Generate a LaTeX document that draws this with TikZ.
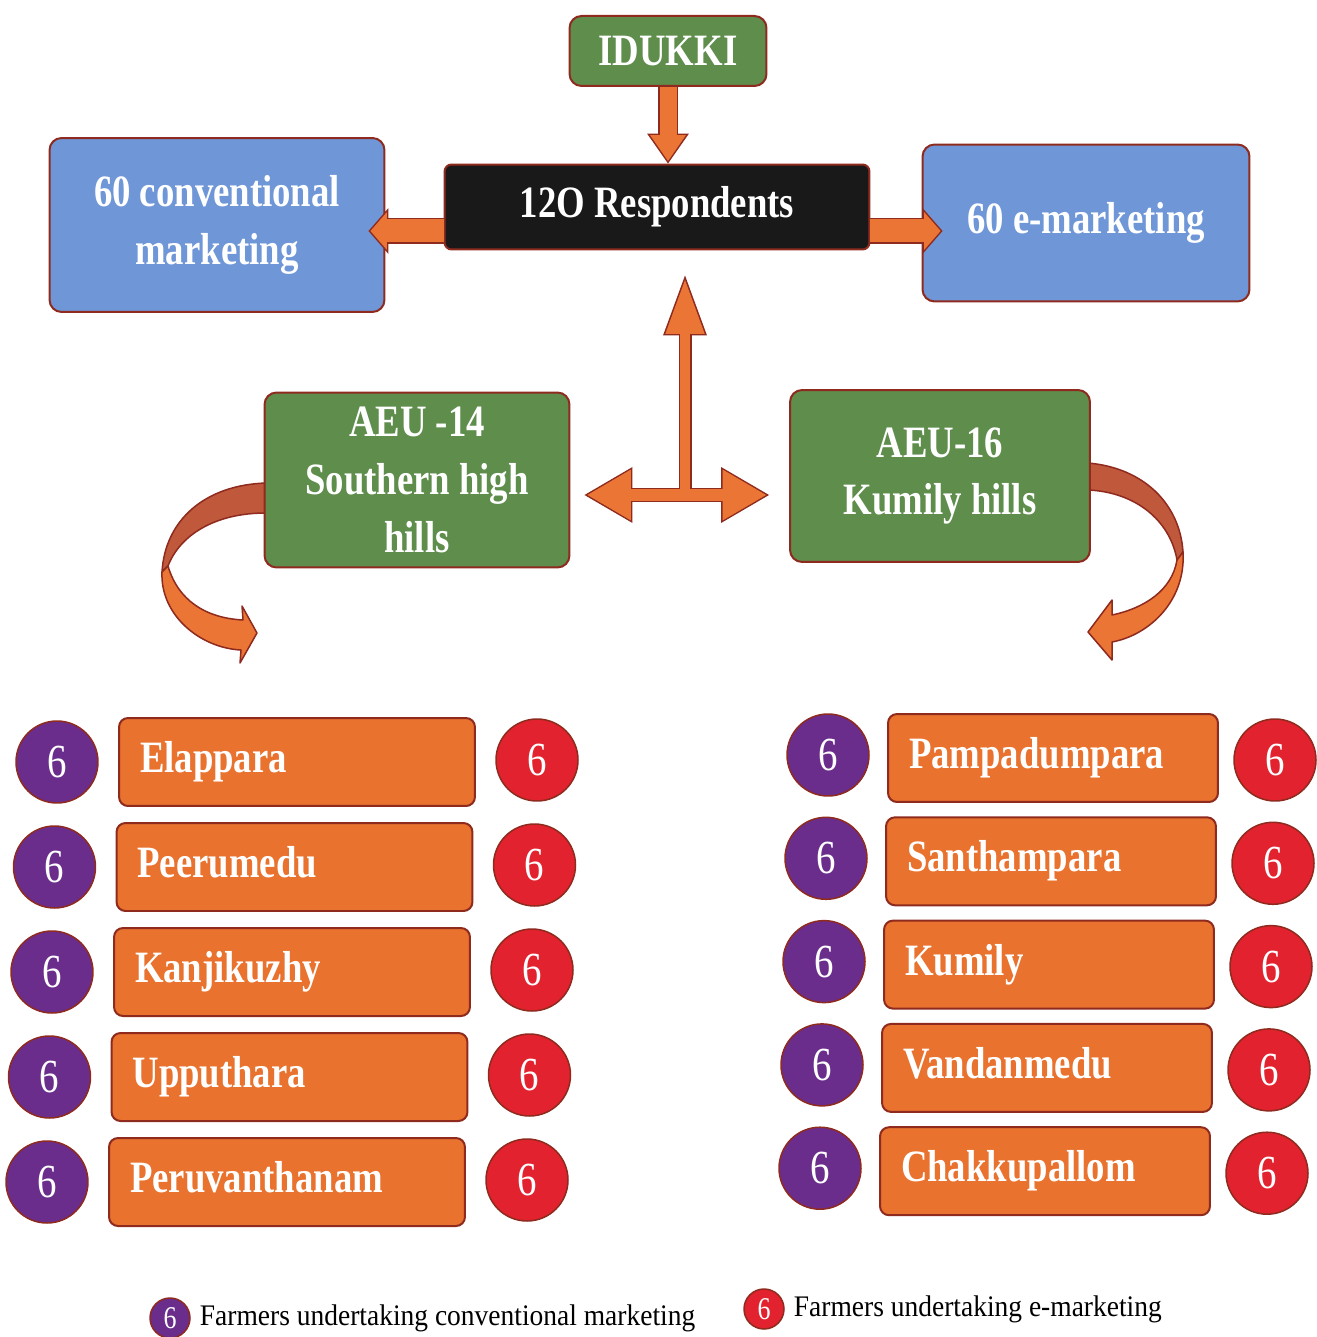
\documentclass[tikz,border=0pt]{standalone}
\usepackage{fontspec}
\setmainfont{Liberation Serif}
\newfontfamily\narrowfont[FakeStretch=0.82]{Liberation Serif}
\newfontfamily\legendfont[FakeStretch=0.92]{Liberation Serif}
\usetikzlibrary{arrows.meta,calc}
\definecolor{boxgreen}{HTML}{5E8D4C}
\definecolor{boxblue}{HTML}{6F97D8}
\definecolor{boxorange}{HTML}{E8722E}
\definecolor{arrorange}{HTML}{EA7535}
\definecolor{curvedark}{HTML}{C0583C}
\definecolor{dotpurple}{HTML}{6A2D8C}
\definecolor{dotred}{HTML}{E2222E}
\definecolor{brd}{HTML}{8E2A1E}
\tikzset{
box/.style={
  rectangle,
  rounded corners=0.24cm,
  draw=brd,
  line width=0.04cm,
  text=white,
  align=center,
  inner sep=0pt,
  font=\narrowfont\bfseries\fontsize{25.5}{33}\selectfont
},
greenbox/.style={box,fill=boxgreen},
bluebox/.style={box,fill=boxblue},
townbox/.style={box,fill=boxorange,rounded corners=0.18cm,align=left,
  inner xsep=0.42cm,minimum height=1.76cm,text height=0.62cm,text depth=0.2cm},
convdot/.style={circle,draw=brd,line width=0.03cm,fill=dotpurple,text=white,
  minimum size=1.64cm,inner sep=0pt,font=\narrowfont\fontsize{27}{30}\selectfont},
edot/.style={convdot,fill=dotred},
arrowback/.style n args={3}{draw=brd,line width=#1,
  -{Triangle[width=#2,length=#3,line width=0pt]}},
arrowfront/.style n args={4}{draw=arrorange,line width=#1,
  -{Triangle[width=#2,length=#3,line width=0pt]},shorten >=#4},
darrowback/.style n args={3}{draw=brd,line width=#1,
  {Triangle[width=#2,length=#3,line width=0pt]}-{Triangle[width=#2,length=#3,line width=0pt]}},
darrowfront/.style n args={4}{draw=arrorange,line width=#1,
  {Triangle[width=#2,length=#3,line width=0pt]}-{Triangle[width=#2,length=#3,line width=0pt]},
  shorten <=#4,shorten >=#4},
curveback/.style={draw=brd,line width=0.03cm,fill=curvedark,line join=round},
curvefront/.style={draw=brd,line width=0.03cm,fill=arrorange,line join=round},
}

\begin{document}
\begin{tikzpicture}[x=0.02cm,y=-0.02cm]
\useasboundingbox (0,0) rectangle (1316,1337);

% the bent arrows behind the two zones
\draw[curveback] (266,483) .. controls (205,485) and (165,520) .. (162,572)
  -- (168,566) .. controls (180,535) and (215,513) .. (266,513) -- cycle;
\draw[curvefront] (162,572) .. controls (160,615) and (200,648) .. (241,650)
  -- (240,663) -- (257,633) -- (242,606) -- (243,620)
  .. controls (205,618) and (178,600) .. (168,566) -- cycle;
\draw[curveback] (1088,463) .. controls (1145,468) and (1180,505) .. (1183,552)
  -- (1177,560) .. controls (1170,520) and (1135,492) .. (1088,490) -- cycle;
\draw[curvefront] (1183,552) .. controls (1186,600) and (1150,635) .. (1112,642)
  -- (1112,660) -- (1088,632) -- (1112,600) -- (1112,615)
  .. controls (1145,608) and (1172,590) .. (1177,560) -- cycle;

% the boxes
\node[greenbox,minimum width=3.94cm,minimum height=1.40cm] (idukki) at (668,51) {IDUKKI};
\node[box,fill=black!90,rounded corners=0.14cm,minimum width=8.5cm,minimum height=1.7cm]
  (resp) at (657,207) {12O Respondents};
\node[bluebox,minimum width=6.7cm,minimum height=3.48cm] (conv) at (217,225)
  {60 conventional\\marketing};
\node[bluebox,minimum width=6.54cm,minimum height=3.14cm] (emark) at (1086,223)
  {60 e-marketing};
\node[greenbox,minimum width=6.1cm,minimum height=3.5cm] (aeuL) at (417,480)
  {AEU -14\\Southern high\\hills};
\node[greenbox,minimum width=6.0cm,minimum height=3.44cm] (aeuR) at (940,476)
  {AEU-16\\Kumily hills};
\coordinate (hub) at (685,495);

% the straight arrows: dark outline first, orange on top
\draw[arrowback={0.40cm}{0.84cm}{0.60cm}] (idukki.south) -- (idukki.south |- resp.north);
\draw[arrowfront={0.34cm}{0.72cm}{0.52cm}{0.05cm}] (idukki.south) -- (idukki.south |- resp.north);
\draw[arrowback={0.52cm}{0.92cm}{0.40cm}] ($(resp.west)+(0,24)$) -- ($(conv.east)+(-17,6)$);
\draw[arrowfront={0.46cm}{0.76cm}{0.33cm}{0.04cm}] ($(resp.west)+(0,24)$) -- ($(conv.east)+(-17,6)$);
\draw[arrowback={0.52cm}{0.92cm}{0.40cm}] ($(resp.east)+(0,24)$) -- ($(emark.west)+(21,8)$);
\draw[arrowfront={0.46cm}{0.76cm}{0.33cm}{0.04cm}] ($(resp.east)+(0,24)$) -- ($(emark.west)+(21,8)$);
\draw[darrowback={0.30cm}{1.12cm}{0.96cm}] ($(aeuL.east |- hub)+(14,0)$) -- ($(aeuR.west |- hub)+(-20,0)$);
\draw[arrowback={0.26cm}{0.88cm}{1.20cm}] (hub) -- ($(resp.south -| hub)+(0,25)$);
\draw[darrowfront={0.24cm}{1.02cm}{0.87cm}{0.06cm}] ($(aeuL.east |- hub)+(14,0)$) -- ($(aeuR.west |- hub)+(-20,0)$);
\draw[arrowfront={0.20cm}{0.79cm}{1.08cm}{0.09cm}] (hub) -- ($(resp.south -| hub)+(0,25)$);

% the panchayats of each zone
\foreach \town [count=\i] in {Elappara,Peerumedu,Kanjikuzhy,Upputhara,Peruvanthanam}
{
  \pgfmathsetmacro\yy{762+105*(\i-1)}
  \pgfmathsetmacro\dx{-2.5*(\i-1)}
  \node[convdot] (lc\i) at (57+\dx,\yy) {6};
  \node[townbox,minimum width=7.12cm,text width=6.28cm] (lt\i) at (297+\dx,\yy) {\town};
  \node[edot] (le\i) at (537+\dx,\yy-2) {6};
}
\foreach \town [count=\i] in {Pampadumpara,Santhampara,Kumily,Vandanmedu,Chakkupallom}
{
  \pgfmathsetmacro\yy{758+103.3*(\i-1)}
  \pgfmathsetmacro\dx{-2*(\i-1)}
  \node[convdot] (rc\i) at (828+\dx,\yy-3) {6};
  \node[townbox,minimum width=6.6cm,text width=5.76cm] (rt\i) at (1053+\dx,\yy) {\town};
  \node[edot] (re\i) at (1275+\dx,\yy+2) {6};
}

% legend
\node[convdot,minimum size=0.8cm,font=\narrowfont\fontsize{18}{20}\selectfont] (lgc) at (170,1318) {6};
\node[anchor=west,font=\legendfont\fontsize{17}{20}\selectfont] (lgct) at ([xshift=0.06cm]lgc.east)
  {Farmers undertaking conventional marketing};
\node[edot,minimum size=0.8cm,font=\narrowfont\fontsize{18}{20}\selectfont] (lge) at (764,1309) {6};
\node[anchor=west,font=\legendfont\fontsize{17}{20}\selectfont] (lget) at ([xshift=0.06cm]lge.east)
  {Farmers undertaking e-marketing};
\end{tikzpicture}
\end{document}
